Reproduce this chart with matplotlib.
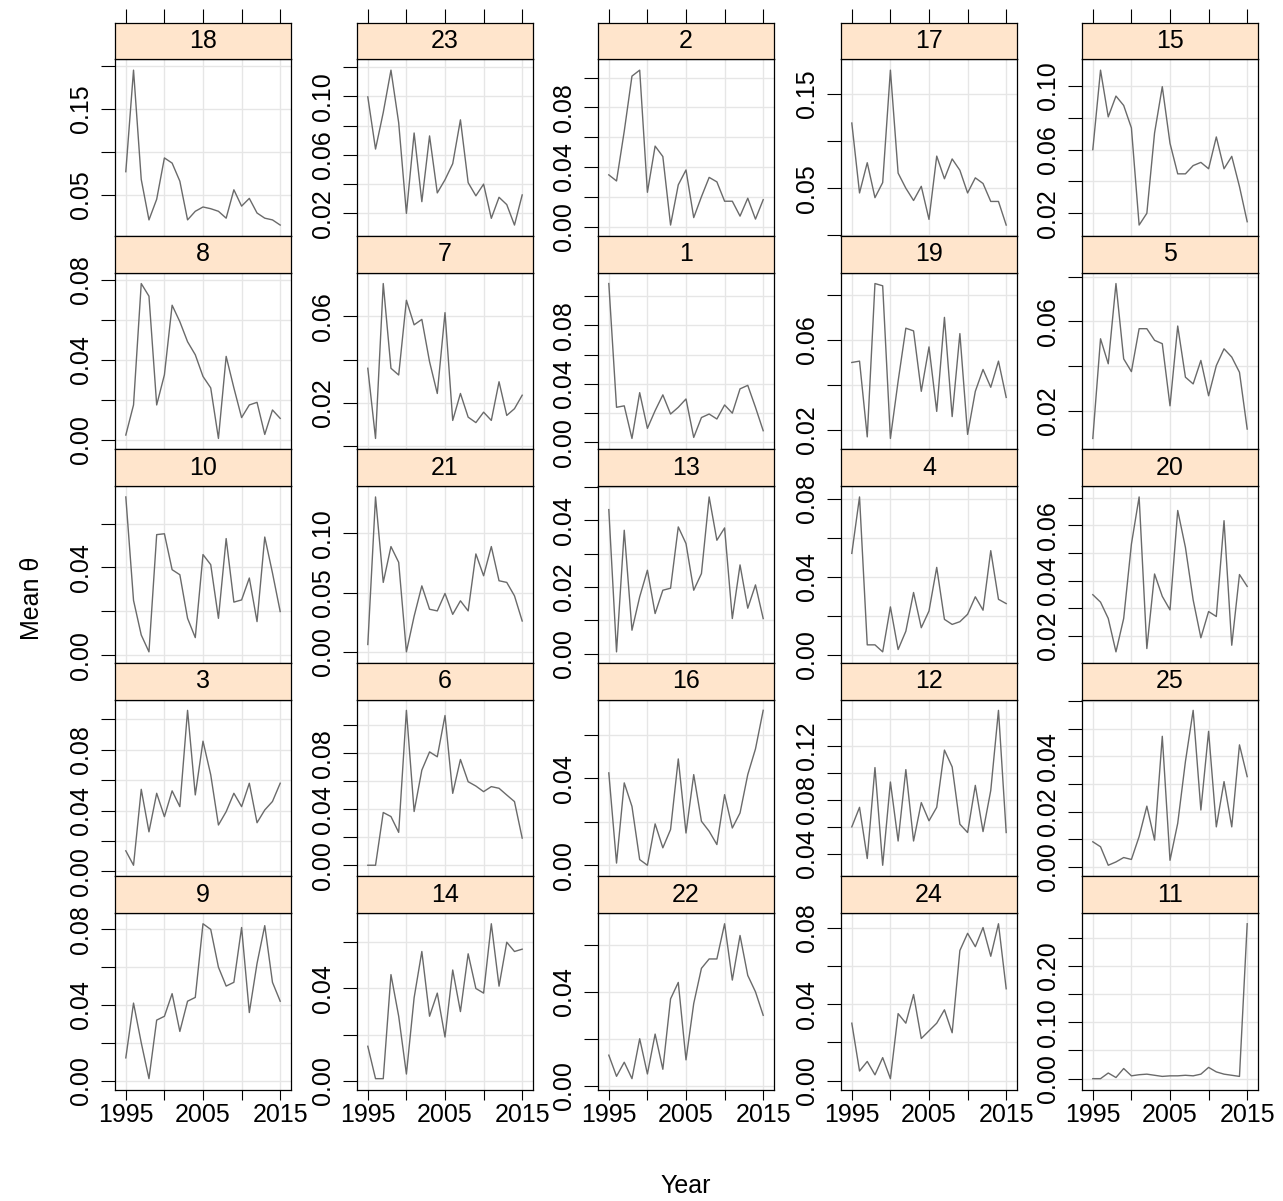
import numpy as np
import matplotlib
matplotlib.use("Agg")
import matplotlib.pyplot as plt

plt.rcParams['font.family'] = ['Liberation Sans', 'DejaVu Sans']

years = np.arange(1995, 2016)

# panel order, left->right, top->bottom
panel_ids = [18, 23, 2, 17, 15,
             8, 7, 1, 19, 5,
             10, 21, 13, 4, 20,
             3, 6, 16, 12, 25,
             9, 14, 22, 24, 11]

# mean theta per year (1995..2015)
theta_18 = [0.077, 0.195, 0.068, 0.021, 0.045, 0.093, 0.087, 0.066, 0.021, 0.031, 0.036,
            0.034, 0.031, 0.023, 0.056, 0.037, 0.046, 0.029, 0.023, 0.021, 0.015]
theta_23 = [0.0997, 0.064, 0.089, 0.118, 0.082, 0.020, 0.075, 0.028, 0.073, 0.034, 0.043,
            0.054, 0.084, 0.041, 0.032, 0.040, 0.0166, 0.031, 0.026, 0.012, 0.0326]
theta_2 = [0.0347, 0.0306, 0.064, 0.101, 0.105, 0.023, 0.054, 0.047, 0.001, 0.028, 0.038,
           0.006, 0.020, 0.033, 0.030, 0.017, 0.017, 0.007, 0.019, 0.005, 0.018]
theta_17 = [0.119, 0.045, 0.077, 0.040, 0.056, 0.175, 0.066, 0.050, 0.037, 0.052, 0.017,
            0.084, 0.060, 0.081, 0.069, 0.045, 0.061, 0.055, 0.036, 0.036, 0.011]
theta_15 = [0.060, 0.110, 0.0806, 0.0937, 0.0878, 0.0737, 0.0126, 0.020, 0.0705, 0.0996, 0.064,
            0.0448, 0.0448, 0.050, 0.052, 0.048, 0.068, 0.048, 0.0558, 0.0368, 0.0147]
theta_8 = [0.0025, 0.0175, 0.078, 0.0717, 0.0175, 0.0325, 0.0672, 0.059, 0.049, 0.0425, 0.0317,
           0.026, 0.0008, 0.0417, 0.026, 0.0112, 0.0175, 0.0188, 0.0028, 0.015, 0.0108]
theta_7 = [0.036, 0.0037, 0.075, 0.036, 0.0329, 0.0673, 0.056, 0.0585, 0.039, 0.0244, 0.0616,
           0.012, 0.0244, 0.0135, 0.011, 0.0158, 0.012, 0.0298, 0.0143, 0.0174, 0.0236]
theta_1 = [0.1086, 0.024, 0.025, 0.0027, 0.034, 0.0096, 0.0217, 0.0325, 0.0194, 0.024, 0.0297,
           0.0034, 0.017, 0.0194, 0.016, 0.0256, 0.020, 0.0366, 0.039, 0.024, 0.008]
theta_19 = [0.050, 0.0506, 0.017, 0.085, 0.084, 0.0163, 0.0417, 0.0652, 0.064, 0.0372, 0.0569,
            0.0283, 0.070, 0.026, 0.0628, 0.0181, 0.0372, 0.0469, 0.039, 0.0506, 0.0345]
theta_5 = [0.0076, 0.0522, 0.041, 0.0769, 0.0432, 0.0375, 0.0567, 0.0567, 0.0515, 0.050, 0.0222,
           0.0579, 0.035, 0.032, 0.0425, 0.0267, 0.0402, 0.0477, 0.044, 0.0372, 0.0118]
theta_10 = [0.0722, 0.025, 0.0092, 0.0015, 0.055, 0.0554, 0.039, 0.0367, 0.0168, 0.008, 0.0459,
            0.0413, 0.0168, 0.0532, 0.0242, 0.0252, 0.0352, 0.0153, 0.0539, 0.0375, 0.0199]
theta_21 = [0.0062, 0.1305, 0.0585, 0.0887, 0.0754, 0.000, 0.030, 0.0556, 0.0359, 0.0345, 0.0492,
            0.0316, 0.043, 0.0345, 0.0825, 0.0641, 0.0887, 0.0599, 0.0585, 0.0472, 0.026]
theta_13 = [0.0432, 0.0005, 0.037, 0.007, 0.017, 0.025, 0.012, 0.019, 0.0196, 0.038, 0.033,
            0.019, 0.024, 0.047, 0.034, 0.0377, 0.0105, 0.0266, 0.0136, 0.0206, 0.0105]
theta_4 = [0.052, 0.081, 0.005, 0.005, 0.0014, 0.0245, 0.0026, 0.012, 0.0319, 0.0138, 0.0224,
           0.0448, 0.0181, 0.0155, 0.0169, 0.0207, 0.0297, 0.0228, 0.0534, 0.0284, 0.0262]
theta_20 = [0.0349, 0.0322, 0.0263, 0.0142, 0.0263, 0.0532, 0.0703, 0.0154, 0.0424, 0.0343, 0.0294,
            0.0654, 0.052, 0.033, 0.0193, 0.0288, 0.027, 0.0617, 0.0166, 0.0422, 0.0379]
theta_3 = [0.0135, 0.004, 0.054, 0.026, 0.0514, 0.036, 0.053, 0.0426, 0.106, 0.0503, 0.0857,
           0.0636, 0.0305, 0.0393, 0.0514, 0.0426, 0.058, 0.032, 0.0404, 0.046, 0.058]
theta_6 = [0.000, 0.000, 0.0377, 0.0348, 0.0235, 0.1107, 0.0384, 0.068, 0.081, 0.0775, 0.107,
           0.0514, 0.0756, 0.0597, 0.0566, 0.0526, 0.0562, 0.055, 0.0502, 0.0455, 0.0194]
theta_16 = [0.0424, 0.001, 0.0378, 0.027, 0.0026, 0.000, 0.019, 0.008, 0.0164, 0.0488, 0.0148,
            0.0416, 0.0202, 0.0156, 0.0095, 0.0324, 0.0171, 0.024, 0.0416, 0.0534, 0.0711]
theta_12 = [0.060, 0.0745, 0.0365, 0.104, 0.0315, 0.0933, 0.0495, 0.1025, 0.0495, 0.078, 0.0645,
            0.0745, 0.117, 0.1045, 0.062, 0.0558, 0.0908, 0.0565, 0.087, 0.1465, 0.0558]
theta_25 = [0.0091, 0.0073, 0.0006, 0.0018, 0.0034, 0.0027, 0.011, 0.022, 0.0097, 0.0473, 0.0024,
            0.0158, 0.0382, 0.0567, 0.0206, 0.0491, 0.0145, 0.0309, 0.0145, 0.0442, 0.0327]
theta_9 = [0.012, 0.041, 0.020, 0.001, 0.032, 0.034, 0.046, 0.026, 0.042, 0.044, 0.083,
           0.080, 0.060, 0.050, 0.052, 0.081, 0.036, 0.062, 0.082, 0.052, 0.042]
theta_14 = [0.015, 0.001, 0.001, 0.046, 0.028, 0.003, 0.036, 0.056, 0.028, 0.038, 0.019,
            0.048, 0.030, 0.055, 0.040, 0.038, 0.068, 0.041, 0.060, 0.056, 0.057]
theta_22 = [0.013, 0.004, 0.010, 0.003, 0.020, 0.005, 0.022, 0.007, 0.037, 0.044, 0.011,
            0.035, 0.050, 0.054, 0.054, 0.069, 0.045, 0.064, 0.047, 0.040, 0.030]
theta_24 = [0.030, 0.005, 0.010, 0.003, 0.012, 0.001, 0.035, 0.030, 0.045, 0.022, 0.026,
            0.030, 0.037, 0.025, 0.068, 0.077, 0.070, 0.080, 0.065, 0.082, 0.048]
theta_11 = [0.000, 0.000, 0.010, 0.002, 0.018, 0.005, 0.007, 0.008, 0.006, 0.004, 0.005,
            0.005, 0.006, 0.005, 0.008, 0.020, 0.012, 0.008, 0.006, 0.004, 0.275]

series = {18: theta_18, 23: theta_23, 2: theta_2, 17: theta_17, 15: theta_15,
          8: theta_8, 7: theta_7, 1: theta_1, 19: theta_19, 5: theta_5,
          10: theta_10, 21: theta_21, 13: theta_13, 4: theta_4, 20: theta_20,
          3: theta_3, 6: theta_6, 16: theta_16, 12: theta_12, 25: theta_25,
          9: theta_9, 14: theta_14, 22: theta_22, 24: theta_24, 11: theta_11}

# y tick labels that are printed (others are left as bare ticks)
ytick_labels = {18: [0.05, 0.15], 23: [0.02, 0.06, 0.10], 2: [0.00, 0.04, 0.08],
                17: [0.05, 0.15], 15: [0.02, 0.06, 0.10],
                8: [0.00, 0.04, 0.08], 7: [0.02, 0.06], 1: [0.00, 0.04, 0.08],
                19: [0.02, 0.06], 5: [0.02, 0.06],
                10: [0.00, 0.04], 21: [0.00, 0.05, 0.10], 13: [0.00, 0.02, 0.04],
                4: [0.00, 0.04, 0.08], 20: [0.02, 0.04, 0.06],
                3: [0.00, 0.04, 0.08], 6: [0.00, 0.04, 0.08], 16: [0.00, 0.04],
                12: [0.04, 0.08, 0.12], 25: [0.00, 0.02, 0.04],
                9: [0.00, 0.04, 0.08], 14: [0.00, 0.04], 22: [0.00, 0.04],
                24: [0.00, 0.04, 0.08], 11: [0.00, 0.10, 0.20]}

year_ticks = [1995, 2000, 2005, 2010, 2015]
year_labels = ['1995', '', '2005', '', '2015']


def r_pretty_step(lo, hi, n=5):
    """step size the way R's pretty() picks it"""
    cell = (hi - lo) / n
    base = 10 ** np.floor(np.log10(cell))
    unit = base
    if 2 * base - cell < 1.5 * (cell - unit):
        unit = 2 * base
        if 5 * base - cell < 2.75 * (cell - unit):
            unit = 5 * base
            if 10 * base - cell < 1.5 * (cell - unit):
                unit = 10 * base
    return unit


def padded(lo, hi, f=0.07):
    d = hi - lo
    return lo - f * d, hi + f * d


W, H = 1283, 1201
fig = plt.figure(figsize=(W / 100, H / 100), dpi=100, facecolor='white')

col_left = [115, 357, 598, 841, 1082]
pw = 176
top0, row_h, strip_h = 22.5, 213.4, 36.8
fs = 18
tick_len = 10
line_col = '#6a6a6a'
grid_col = '#e6e6e6'
strip_col = '#ffe5cc'
xlim = padded(1995, 2015)

for i, pid in enumerate(panel_ids):
    r, c = divmod(i, 5)
    x0 = col_left[c]
    strip_top = top0 + r * row_h
    panel_top = strip_top + strip_h
    panel_bot = top0 + (r + 1) * row_h

    ax = fig.add_axes([x0 / W, 1 - panel_bot / H, pw / W, (panel_bot - panel_top) / H])
    vals = np.array(series[pid])
    lo, hi = padded(vals.min(), vals.max())
    step = r_pretty_step(lo, hi)
    ticks = np.arange(np.ceil(lo / step - 1e-6) * step, hi + 1e-9, step)
    ticks = np.round(ticks, 10) + 0.0
    labs = []
    for t in ticks:
        show = any(abs(t - v) < 1e-6 for v in ytick_labels[pid])
        labs.append(f"{abs(t):.2f}" if show else '')

    ax.plot(years, vals, color=line_col, lw=1.0)
    ax.set_xlim(*xlim)
    ax.set_ylim(lo, hi)
    ax.set_yticks(ticks)
    ax.set_yticklabels(labs, rotation=90, va='center', fontsize=fs)
    ax.set_xticks(year_ticks)
    ax.grid(True, color=grid_col, lw=1.0)
    ax.set_axisbelow(True)
    for s in ax.spines.values():
        s.set_linewidth(0.9)
    ax.tick_params(axis='y', length=tick_len, width=0.8, pad=6, direction='out')
    if r == 4:
        ax.set_xticklabels(year_labels, fontsize=fs)
        ax.tick_params(axis='x', length=7, width=0.8, pad=3, direction='out')
    else:
        ax.tick_params(axis='x', length=0, labelbottom=False)

    sax = fig.add_axes([x0 / W, 1 - panel_top / H, pw / W, strip_h / H])
    sax.set_facecolor(strip_col)
    sax.set_xlim(*xlim)
    sax.set_ylim(0, 1)
    sax.set_yticks([])
    for s in sax.spines.values():
        s.set_linewidth(0.9)
    sax.text(0.5, 0.5, str(pid), transform=sax.transAxes, ha='center', va='center', fontsize=fs)
    if r == 0:
        sax.set_xticks(year_ticks)
        sax.tick_params(axis='x', top=True, bottom=False, labeltop=False, labelbottom=False,
                        length=tick_len, width=0.8, direction='out')
    else:
        sax.set_xticks([])

fig.text(32 / W, 1 - 598 / H, 'Mean θ', rotation=90, ha='center', va='center', fontsize=fs)
fig.text(686 / W, 1 - 1186 / H, 'Year', ha='center', va='center', fontsize=fs)

fig.savefig('out.png', dpi=100)
